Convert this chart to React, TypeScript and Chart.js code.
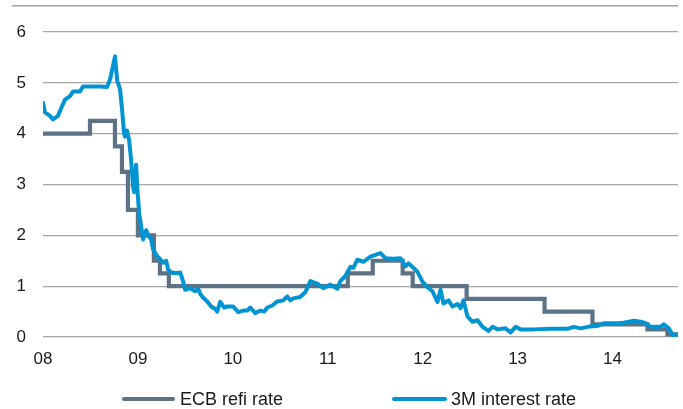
import React, { useEffect, useRef } from 'react';
import { Chart, registerables } from 'chart.js';

Chart.register(...registerables);

// Axis ticks
const yearTicks = [2008, 2009, 2010, 2011, 2012, 2013, 2014];
const yearLabels = ['08', '09', '10', '11', '12', '13', '14'];
const xMin = 2008;
const xMax = 2014.69;
const yMin = 0;
const yMax = 6;

// Series names
const seriesNames = ['ECB refi rate', '3M interest rate'];

// ECB refi rate (step changes: date in decimal years, new rate)
const ecbDates = [
  2008.0, 2008.495, 2008.758, 2008.832, 2008.895, 2009.0, 2009.168, 2009.232, 2009.326,
  2011.211, 2011.474, 2011.789, 2011.895, 2012.463, 2013.284, 2013.789, 2014.368, 2014.579, 2014.69,
];
const ecbRates = [
  4.0, 4.25, 3.75, 3.25, 2.5, 2.0, 1.5, 1.25, 1.0,
  1.25, 1.5, 1.25, 1.0, 0.75, 0.5, 0.25, 0.15, 0.05, 0.05,
];

// 3M interest rate (decimal years, %)
const rateDates = [
  2008.000, 2008.021, 2008.074, 2008.105, 2008.158, 2008.200, 2008.232, 2008.285, 2008.316, 2008.390,
  2008.422, 2008.496, 2008.601, 2008.675, 2008.707, 2008.759, 2008.781, 2008.812, 2008.833, 2008.854,
  2008.865, 2008.886, 2008.907, 2008.928, 2008.949, 2008.960, 2008.981, 2008.992, 2009.013, 2009.044,
  2009.055, 2009.087, 2009.108, 2009.139, 2009.160, 2009.203, 2009.234, 2009.266, 2009.297, 2009.319,
  2009.361, 2009.414, 2009.445, 2009.477, 2009.498, 2009.551, 2009.603, 2009.635, 2009.656, 2009.688,
  2009.730, 2009.772, 2009.814, 2009.835, 2009.867, 2009.909, 2009.941, 2010.004, 2010.057, 2010.110,
  2010.152, 2010.184, 2010.236, 2010.289, 2010.331, 2010.363, 2010.416, 2010.468, 2010.532, 2010.574,
  2010.605, 2010.637, 2010.711, 2010.764, 2010.816, 2010.890, 2010.954, 2011.027, 2011.101, 2011.133,
  2011.186, 2011.238, 2011.270, 2011.312, 2011.376, 2011.449, 2011.555, 2011.608, 2011.692, 2011.766,
  2011.819, 2011.850, 2011.903, 2011.945, 2011.998, 2012.051, 2012.103, 2012.156, 2012.188, 2012.219,
  2012.272, 2012.314, 2012.367, 2012.399, 2012.430, 2012.473, 2012.525, 2012.578, 2012.631, 2012.694,
  2012.736, 2012.789, 2012.873, 2012.926, 2012.979, 2013.032, 2013.169, 2013.348, 2013.527, 2013.591,
  2013.665, 2013.738, 2013.844, 2013.907, 2014.055, 2014.118, 2014.224, 2014.297, 2014.350, 2014.403,
  2014.508, 2014.540, 2014.593, 2014.635, 2014.690,
];
const rateValues = [
  4.61, 4.42, 4.35, 4.28, 4.35, 4.54, 4.67, 4.74, 4.83, 4.83,
  4.93, 4.93, 4.93, 4.92, 5.07, 5.52, 5.05, 4.87, 4.48, 4.00,
  3.94, 4.06, 3.88, 3.49, 2.96, 2.85, 3.39, 2.96, 2.44, 2.05,
  1.92, 2.10, 2.00, 1.92, 1.72, 1.59, 1.53, 1.46, 1.50, 1.32,
  1.26, 1.26, 1.27, 1.09, 0.93, 0.96, 0.90, 0.95, 0.85, 0.77,
  0.70, 0.60, 0.55, 0.50, 0.69, 0.58, 0.60, 0.60, 0.49, 0.52,
  0.52, 0.58, 0.47, 0.52, 0.50, 0.58, 0.62, 0.70, 0.72, 0.80,
  0.72, 0.76, 0.79, 0.88, 1.10, 1.05, 0.96, 1.03, 0.95, 1.10,
  1.20, 1.38, 1.36, 1.52, 1.48, 1.58, 1.65, 1.55, 1.54, 1.55,
  1.39, 1.45, 1.36, 1.28, 1.09, 0.98, 0.90, 0.69, 0.93, 0.66,
  0.72, 0.60, 0.65, 0.57, 0.72, 0.40, 0.30, 0.33, 0.20, 0.12,
  0.20, 0.15, 0.17, 0.09, 0.20, 0.15, 0.15, 0.16, 0.16, 0.20,
  0.17, 0.20, 0.22, 0.27, 0.27, 0.28, 0.32, 0.30, 0.27, 0.20,
  0.20, 0.25, 0.17, 0.04, 0.05,
];

const GRAY = '#5e7286';
const BLUE = '#0094d3';
const TEXT = '#1a1a1a';
const FONT_FAMILY = "'Liberation Sans', Arial, Helvetica, sans-serif";

export default function App() {
  const canvasRef = useRef<HTMLCanvasElement | null>(null);

  useEffect(() => {
    const canvas = canvasRef.current;
    if (!canvas) return;

    const decorPlugin = {
      id: 'decor',
      beforeDraw(chart: any) {
        const ctx = chart.ctx;
        ctx.save();
        ctx.strokeStyle = '#a3a3a3';
        ctx.lineWidth = 1.6;
        ctx.beginPath();
        ctx.moveTo(12, 5.7);
        ctx.lineTo(chart.chartArea.right, 5.7);
        ctx.stroke();
        ctx.restore();
      },
      afterDraw(chart: any) {
        const ctx = chart.ctx;
        const y = 399;
        const slots = [
          { x0: 124, x1: 173, tx: 180 },
          { x0: 394, x1: 445, tx: 451 },
        ];
        ctx.save();
        chart.data.datasets.forEach((ds: any, i: number) => {
          const s = slots[i];
          ctx.strokeStyle = ds.borderColor;
          ctx.lineWidth = 4;
          ctx.lineCap = 'round';
          ctx.beginPath();
          ctx.moveTo(s.x0, y);
          ctx.lineTo(s.x1, y);
          ctx.stroke();
          ctx.fillStyle = TEXT;
          ctx.font = `18px ${FONT_FAMILY}`;
          ctx.textBaseline = 'middle';
          ctx.textAlign = 'left';
          ctx.fillText(ds.label, s.tx, y + 1);
        });
        ctx.restore();
      },
    };

    const chart = new Chart(canvas, {
      type: 'line',
      data: {
        datasets: [
          {
            label: seriesNames[0],
            data: ecbDates.map((d, i) => ({ x: d, y: ecbRates[i] })),
            borderColor: GRAY,
            backgroundColor: GRAY,
            borderWidth: 4.2,
            stepped: true,
            pointRadius: 0,
            order: 1,
            borderJoinStyle: 'miter',
          },
          {
            label: seriesNames[1],
            data: rateDates.map((d, i) => ({ x: d, y: rateValues[i] })),
            borderColor: BLUE,
            backgroundColor: BLUE,
            borderWidth: 4,
            tension: 0,
            pointRadius: 0,
            order: 0,
            borderJoinStyle: 'round',
            borderCapStyle: 'round',
          },
        ],
      },
      options: {
        responsive: false,
        animation: false,
        events: [],
        layout: { padding: { left: 0, right: 5, top: 32, bottom: 42 } },
        plugins: {
          legend: { display: false },
          tooltip: { enabled: false },
        },
        scales: {
          x: {
            type: 'linear',
            min: xMin,
            max: xMax,
            afterBuildTicks: (axis: any) => {
              axis.ticks = yearTicks.map((v) => ({ value: v }));
            },
            afterFit: (axis: any) => {
              axis.height = 30;
            },
            ticks: {
              autoSkip: false,
              maxRotation: 0,
              padding: 12,
              color: TEXT,
              font: { family: FONT_FAMILY, size: 17 },
              callback: (v: any) => {
                const idx = yearTicks.indexOf(Number(v));
                return idx >= 0 ? yearLabels[idx] : '';
              },
            },
            grid: { display: false, drawTicks: false },
            border: { display: false },
          },
          y: {
            min: yMin,
            max: yMax,
            afterFit: (axis: any) => {
              axis.width = 43;
            },
            ticks: {
              stepSize: 1,
              padding: 17,
              color: TEXT,
              font: { family: FONT_FAMILY, size: 17 },
            },
            grid: { color: '#a6a6a6', lineWidth: 1.2, drawTicks: false },
            border: { display: false },
          },
        },
      },
      plugins: [decorPlugin],
    } as any);

    return () => {
      chart.destroy();
    };
  }, []);

  return (
    <div style={{ position: 'fixed', left: 0, top: 0, width: 683, height: 409, background: '#fff' }}>
      <canvas ref={canvasRef} width={683} height={409} style={{ display: 'block', width: 683, height: 409 }} />
    </div>
  );
}
